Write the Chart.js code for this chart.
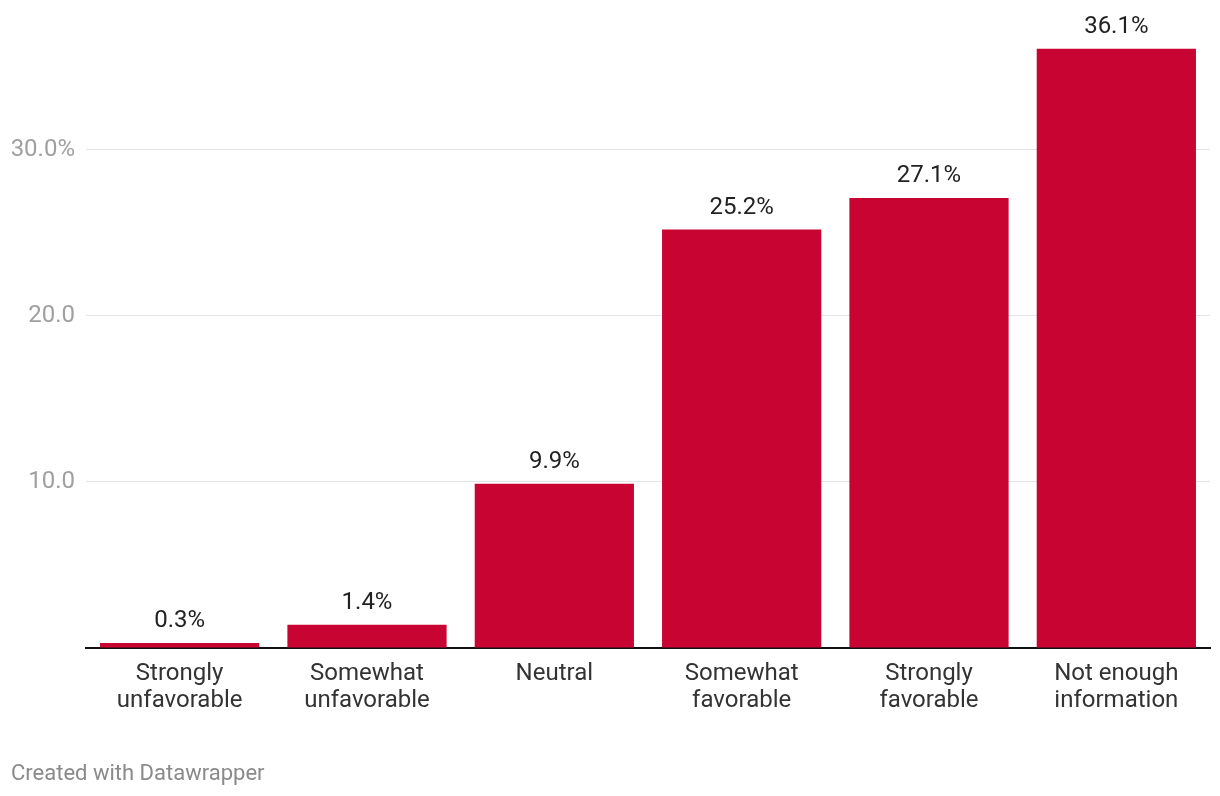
<!DOCTYPE html>
<html>
<head>
<meta charset="utf-8">
<script src="https://cdn.jsdelivr.net/npm/chart.js@4/dist/chart.umd.min.js"></script>
<style>
  body { margin: 0; background: #fff; font-family: Roboto, sans-serif; }
  #wrap { position: relative; width: 1220px; height: 796px; }
  #footer { position: absolute; left: 11px; top: 760px; font-size: 22px; color: #8a8a8a; }
</style>
</head>
<body>
<div id="wrap">
  <canvas id="chart"></canvas>
  <div id="footer">Created with Datawrapper</div>
</div>
<script>
// Category labels (two lines each)
const CATEGORIES = [
  ["Strongly", "unfavorable"],
  ["Somewhat", "unfavorable"],
  ["Neutral"],
  ["Somewhat", "favorable"],
  ["Strongly", "favorable"],
  ["Not enough", "information"]
];

// Share of responses, in percent
const VALUES = [0.3, 1.4, 9.9, 25.2, 27.1, 36.1];

// Y axis ticks
const Y_TICKS = [10, 20, 30];

const BAR_COLOR = "#c80532";

// Draw the value above each bar
const valueLabels = {
  id: "valueLabels",
  afterDatasetsDraw(chart) {
    const ctx = chart.ctx;
    const meta = chart.getDatasetMeta(0);
    ctx.save();
    ctx.font = "24px Roboto";
    ctx.fillStyle = "#222";
    ctx.textAlign = "center";
    ctx.textBaseline = "alphabetic";
    meta.data.forEach((bar, i) => {
      ctx.fillText(VALUES[i].toFixed(1) + "%", bar.x, bar.y - 16);
    });
    ctx.restore();
  }
};

const config = {
  type: "bar",
  data: {
    labels: CATEGORIES,
    datasets: [{
      data: VALUES,
      backgroundColor: BAR_COLOR,
      barPercentage: 0.85,
      categoryPercentage: 1.0
    }]
  },
  options: {
    responsive: true,
    maintainAspectRatio: false,
    animation: false,
    layout: {
      padding: { top: 7, right: 10, bottom: 48, left: 0 }
    },
    plugins: {
      legend: { display: false },
      tooltip: { enabled: false }
    },
    scales: {
      x: {
        grid: { display: false, drawTicks: false },
        border: { display: true, color: "#111", width: 2 },
        ticks: {
          color: "#333",
          padding: 12,
          maxRotation: 0,
          autoSkip: false,
          font: { family: "Roboto", size: 24, lineHeight: 1.15 }
        },
        afterFit: (scale) => { scale.height = 100; }
      },
      y: {
        min: 0,
        max: 37.5,
        afterBuildTicks: (scale) => {
          scale.ticks = [0].concat(Y_TICKS).map(v => ({ value: v }));
        },
        grid: {
          drawTicks: false,
          color: (c) => c.tick && c.tick.value === 0 ? "rgba(0,0,0,0)" : "#e3e3e3",
          lineWidth: 1
        },
        border: { display: false },
        ticks: {
          color: "#a0a0a0",
          padding: 11,
          font: { family: "Roboto", size: 24 },
          callback: (v) => {
            if (v === 0) return "";
            if (v === 30) return "30.0%";
            return v.toFixed(1);
          }
        },
        afterFit: (scale) => { scale.width = 86; }
      }
    }
  },
  plugins: [valueLabels]
};

const ctx = document.getElementById("chart").getContext("2d");
const chart = new Chart(ctx, config);
</script>
</body>
</html>
